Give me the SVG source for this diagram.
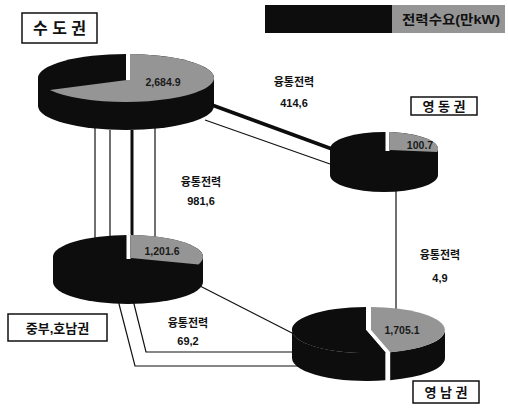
<svg xmlns="http://www.w3.org/2000/svg" width="508" height="408" viewBox="0 0 508 408">
<style>
.dk{fill:#0d0d0d}
.gr{fill:#959595}
.ln{fill:none;stroke:#111;stroke-width:1.2}
.thk{fill:none;stroke:#0d0d0d;stroke-width:3.5}
.gap{stroke:#fff;stroke-width:4}
.box{fill:#fff;stroke:#111;stroke-width:1.5}
.rl{font-family:"Liberation Sans","Noto Sans CJK KR",sans-serif;font-weight:bold;fill:#111;text-anchor:middle}
.fl{font-family:"Liberation Sans","Noto Sans CJK KR",sans-serif;font-weight:bold;font-size:11px;fill:#111;text-anchor:middle}
.val{font-family:"Liberation Sans","Noto Sans CJK KR",sans-serif;font-weight:bold;font-size:10.5px;fill:#1a1a1a;text-anchor:middle}
</style>
<rect width="508" height="408" fill="#fff"/>
<g id="connectors">
<line class="thk" x1="212" y1="105" x2="332" y2="149"/>
<line class="ln" x1="205" y1="120" x2="330" y2="164"/>
<line class="ln" x1="95" y1="128" x2="95" y2="240"/>
<line class="ln" x1="110" y1="130" x2="110" y2="240"/>
<line class="ln" x1="155" y1="128" x2="155" y2="240"/>
<line class="thk" x1="132" y1="130" x2="132" y2="240" style="stroke-width:3"/>
<line class="ln" x1="396" y1="188" x2="396" y2="312"/>
<line class="ln" x1="200" y1="286" x2="294" y2="334"/>
<polyline class="ln" points="118,300 135,366 298,366"/>
<polyline class="ln" points="133,300 146,352 296,352"/>
</g>
<g id="legend">
<rect x="265" y="5" width="127" height="28" class="dk"/>
<rect x="392" y="5" width="113" height="28" class="gr"/>
<text x="451" y="24" class="rl" font-size="13" textLength="98" lengthAdjust="spacingAndGlyphs">전력수요(만kW)</text>
</g>
<g id="sudo">
<rect x="38" y="78" width="176" height="28" class="dk"/>
<ellipse cx="126" cy="106" rx="88" ry="24" class="dk"/>
<ellipse cx="126" cy="78" rx="88" ry="24" class="dk"/>
<path d="M127,80 L127,54 A88,24 0 1 1 49.8,90 Z" class="gr"/>
<line class="gap" x1="128" y1="52" x2="128" y2="80"/>
<text x="163" y="86" class="val">2,684.9</text>
<rect x="22" y="13" width="75" height="30" class="box"/>
<text x="59.5" y="34" class="rl" font-size="16">수 도 권</text>
</g>
<g id="yeongdong">
<rect x="330" y="149" width="108" height="26" class="dk"/>
<ellipse cx="384" cy="175" rx="54" ry="17" class="dk"/>
<ellipse cx="384" cy="149" rx="54" ry="17" class="dk"/>
<path d="M390,150 L390,132.1 A54,17 0 0 1 437.2,152 Z" class="gr"/>
<line class="gap" x1="387.5" y1="131" x2="387.5" y2="151"/>
<text x="420" y="149" class="val">100.7</text>
<rect x="411" y="97" width="66" height="18" class="box"/>
<text x="444" y="111" class="rl" font-size="13">영 동 권</text>
</g>
<g id="jungbu">
<rect x="53" y="257" width="150" height="25" class="dk"/>
<ellipse cx="128" cy="282" rx="75" ry="22" class="dk"/>
<ellipse cx="128" cy="257" rx="75" ry="22" class="dk"/>
<path d="M131,258 L131,235.02 A75,22 0 0 1 198.5,264.5 Z" class="gr"/>
<line class="gap" x1="128.5" y1="234" x2="128.5" y2="259"/>
<text x="162" y="255" class="val">1,201.6</text>
<rect x="8" y="314" width="99" height="27" class="box"/>
<text x="57.5" y="332.5" class="rl" font-size="13">중부,호남권</text>
</g>
<g id="yeongnam">
<path d="M385.2,352.2 A74,23 0 0 1 292,330 L292,358 A74,23 0 0 0 385.2,380.2 Z" class="dk"/>
<path d="M366,330 L385.2,352.2 A74,23 0 1 1 366,307 Z" class="dk"/>
<path d="M366,330 L385.2,352.2 L385.2,380.2 L366,358 Z" class="dk"/>
<g transform="translate(5,0)">
<path d="M440,330 A74,23 0 0 1 385.2,352.2 L385.2,380.2 A74,23 0 0 0 440,358 Z" class="dk"/>
<path d="M366,330 L366,307 A74,23 0 0 1 385.2,352.2 Z" class="gr"/>
</g>
<text x="402" y="334" class="val">1,705.1</text>
<rect x="413" y="381" width="66" height="22" class="box"/>
<text x="446" y="397" class="rl" font-size="13">영 남 권</text>
</g>
<g id="labels">
<text x="294" y="86" class="fl">융통전력</text>
<text x="294" y="107" class="fl">414,6</text>
<text x="201" y="186" class="fl">융통전력</text>
<text x="201" y="205" class="fl">981,6</text>
<text x="440" y="259" class="fl">융통전력</text>
<text x="440" y="282" class="fl">4,9</text>
<text x="188" y="327" class="fl">융통전력</text>
<text x="188" y="345" class="fl">69,2</text>
</g>
</svg>
